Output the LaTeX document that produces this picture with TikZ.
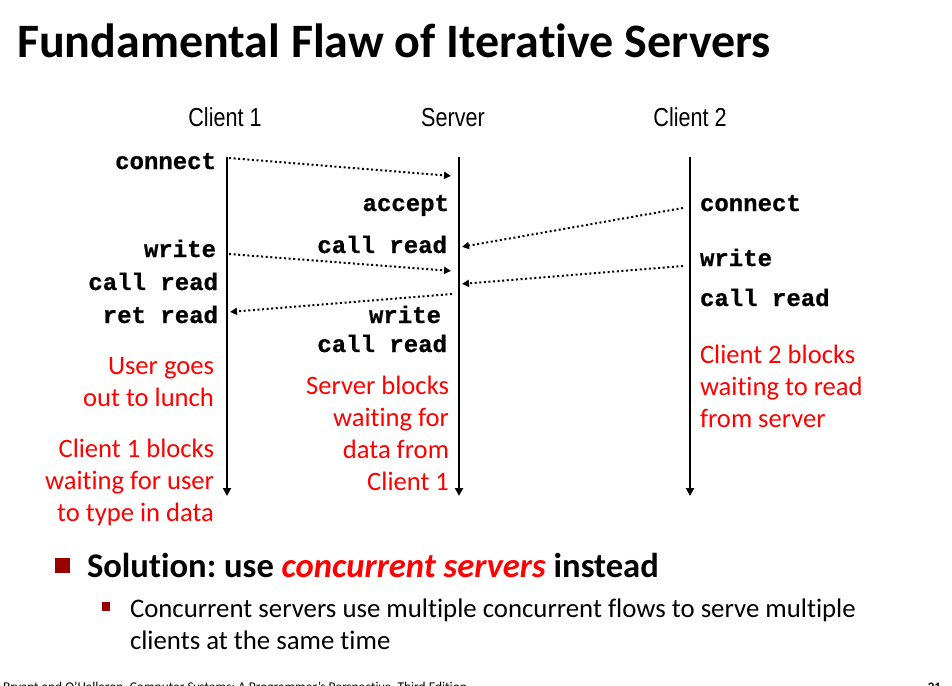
\documentclass[tikz,border=0pt]{standalone}
\usepackage{fontspec}
\setmainfont[RawFeature={-liga;-clig;-calt}]{Carlito}
\newfontfamily\codefont[BoldFeatures={FakeBold=0.8}]{Liberation Mono}
\newfontfamily\headfont[FakeStretch=0.83]{Liberation Sans}
\usetikzlibrary{arrows.meta}
\definecolor{bulletred}{RGB}{153,0,0}
\definecolor{notered}{RGB}{255,0,0}
\frenchspacing

\begin{document}
\begin{tikzpicture}[x=1pt,y=-1pt,
  every node/.style={inner sep=0pt, outer sep=0pt},
  titletext/.style={font=\bfseries\fontsize{48}{58}\selectfont, anchor=base west},
  colhead/.style={font=\headfont\fontsize{26}{30}\selectfont, anchor=base},
  code/.style={font=\codefont\bfseries\fontsize{24}{28}\selectfont},
  note/.style={font=\fontsize{26.6}{32}\selectfont, text=notered,
    execute at begin node={\rule{0pt}{20pt}}},
  timeline/.style={line width=2.4pt, -{Triangle[length=8pt,width=8pt]}},
  msg/.style={line width=2pt, dash pattern=on 2pt off 2.6pt,
    -{Triangle[length=7pt,width=7pt]}, shorten >=1pt},
  bullet/.style={fill=bulletred, draw=none}
]
\useasboundingbox (0,0) rectangle (952,685);
\clip (0,0) rectangle (952,685);

% heading
\node[titletext] (title) at (17,58) {Fundamental Flaw of Iterative Servers};

% column headings
\node[colhead] (h1) at (225,126) {Client 1};
\node[colhead] (hs) at (453,126) {Server};
\node[colhead] (h2) at (690,126) {Client 2};

% time lines
\coordinate (c1top) at (227,157);  \coordinate (c1bot) at (227,496);
\coordinate (svtop) at (459,157);  \coordinate (svbot) at (459,496);
\coordinate (c2top) at (690,157);  \coordinate (c2bot) at (690,496);
\draw[timeline] (c1top) -- (c1bot);
\draw[timeline] (svtop) -- (svbot);
\draw[timeline] (c2top) -- (c2bot);

% client 1 calls
\node[code, anchor=base east] (c1connect) at (216,169) {connect};
\node[code, anchor=base east] (c1write)   at (216,257) {write};
\node[code, anchor=base east] (c1call)    at (218,290) {call read};
\node[code, anchor=base east] (c1ret)     at (218,323) {ret read};

% server calls
\node[code, anchor=base east] (saccept) at (449,211) {accept};
\node[code, anchor=base east] (scall)   at (447,253) {call read};
\node[code, anchor=base east] (swrite)  at (441,323) {write};
\node[code, anchor=base east] (scall2)  at (447,352) {call read};

% client 2 calls
\node[code, anchor=base west] (c2connect) at (700,211) {connect};
\node[code, anchor=base west] (c2write)   at (700,266) {write};
\node[code, anchor=base west] (c2call)    at (700,306) {call read};

% messages between the flows
\coordinate (m1a) at (229,158); \coordinate (m1b) at (452,176);
\coordinate (m2a) at (229,254); \coordinate (m2b) at (452,271);
\coordinate (m3a) at (452,294); \coordinate (m3b) at (229,312);
\coordinate (m4a) at (683,208); \coordinate (m4b) at (461,247);
\coordinate (m5a) at (683,266); \coordinate (m5b) at (461,284);
\draw[msg] (m1a) -- (m1b);
\draw[msg] (m2a) -- (m2b);
\draw[msg] (m3a) -- (m3b);
\draw[msg] (m4a) -- (m4b);
\draw[msg] (m5a) -- (m5b);

% annotations
\node[note, align=right, anchor=north east] (lunch) at (214,357)
  {User goes\\out to lunch};
\node[note, align=right, anchor=north east] (c1block) at (214,439)
  {Client 1 blocks\\waiting for user\\to type in data};
\node[note, align=right, anchor=north east] (sblock) at (449,376)
  {Server blocks\\waiting for\\data from\\Client 1};
\node[note, align=left, anchor=north west] (c2block) at (700,345)
  {Client 2 blocks\\waiting to read\\from server};

% solution bullets
\fill[bullet] (55,558) rectangle (70,573);
\node[font=\bfseries\fontsize{34.6}{40}\selectfont, anchor=base west] (sol) at (87,577)
  {Solution: use \textcolor{notered}{\itshape concurrent servers} instead};
\fill[bullet] (102,602) rectangle (110,611);
\node[font=\fontsize{26.8}{32}\selectfont, align=left, anchor=north west,
  execute at begin node={\rule{0pt}{19pt}}] (sub) at (130,599)
  {Concurrent servers use multiple concurrent flows to serve multiple\\clients at the same time};

% footer
\node[font=\fontsize{13.4}{15}\selectfont, anchor=base west] (foot) at (3,691)
  {Bryant and O'Hallaron, Computer Systems: A Programmer's Perspective, Third Edition};
\node[font=\bfseries\fontsize{13}{15}\selectfont, anchor=base east] (page) at (941,691) {21};
\end{tikzpicture}
\end{document}
